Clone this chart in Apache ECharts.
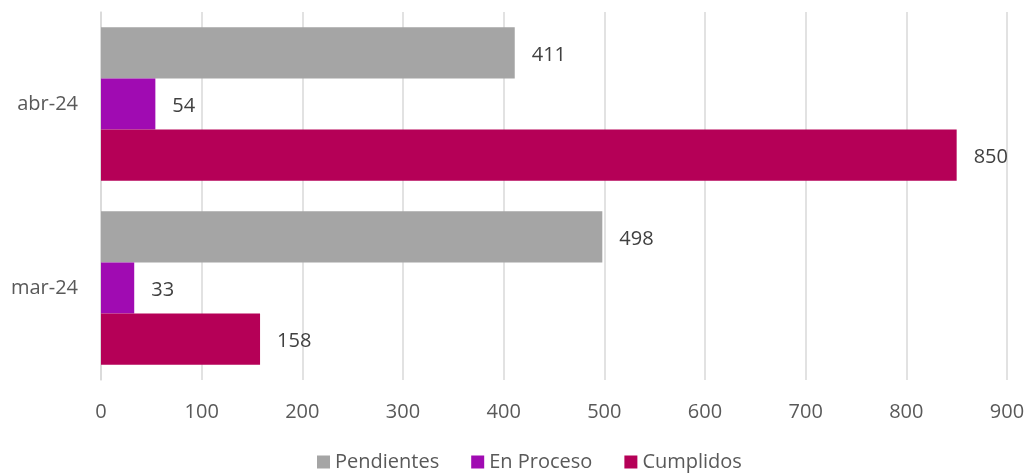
<!DOCTYPE html>
<html><head><meta charset="utf-8">
<script src="https://cdn.jsdelivr.net/npm/echarts@6/dist/echarts.min.js"></script>
<style>html,body{margin:0;padding:0;background:#fff}#c{width:1029px;height:474px}</style>
</head><body><div id="c"></div>
<script>
const categories = ['abr-24', 'mar-24'];
const seriesNames = ['Pendientes', 'En Proceso', 'Cumplidos'];
const pendientes = [411, 498];
const enProceso = [54, 33];
const cumplidos = [850, 158];
const xTicks = [0, 100, 200, 300, 400, 500, 600, 700, 800, 900];
const colors = ['#A5A5A5', '#A00BB2', '#B50057'];
const font = 'Open Sans, Noto Sans, sans-serif';
const chart = echarts.init(document.getElementById('c'));
const values = [pendientes, enProceso, cumplidos];
chart.setOption({
  animation: false,
  color: colors,
  textStyle: { fontFamily: font },
  grid: { left: 101, right: 22, top: 12, bottom: 94, containLabel: false },
  xAxis: {
    type: 'value', min: xTicks[0], max: xTicks[xTicks.length - 1], interval: 100,
    axisLine: { show: false }, axisTick: { show: false },
    splitLine: { lineStyle: { color: '#D9D9D9', width: 1.5 } },
    axisLabel: { color: '#595959', fontSize: 20, margin: 22, fontFamily: font }
  },
  yAxis: {
    type: 'category', data: categories, inverse: true,
    axisLine: { lineStyle: { color: '#D9D9D9', width: 1.5 } }, axisTick: { show: false },
    axisLabel: { color: '#595959', fontSize: 20, margin: 23, fontFamily: font }
  },
  legend: {
    bottom: -3, left: 312, itemWidth: 13, itemHeight: 13, itemGap: 32,
    icon: 'rect',
    textStyle: { color: '#595959', fontSize: 20, fontFamily: font },
    data: seriesNames
  },
  series: seriesNames.map((n, i) => ({
    name: n, type: 'bar', data: values[i],
    barGap: '0%', barCategoryGap: '16.6%',
    label: { show: true, position: 'right', distance: 17, offset: [0, 2], color: '#404040', fontSize: 20, fontFamily: font }
  }))
});
</script></body></html>
